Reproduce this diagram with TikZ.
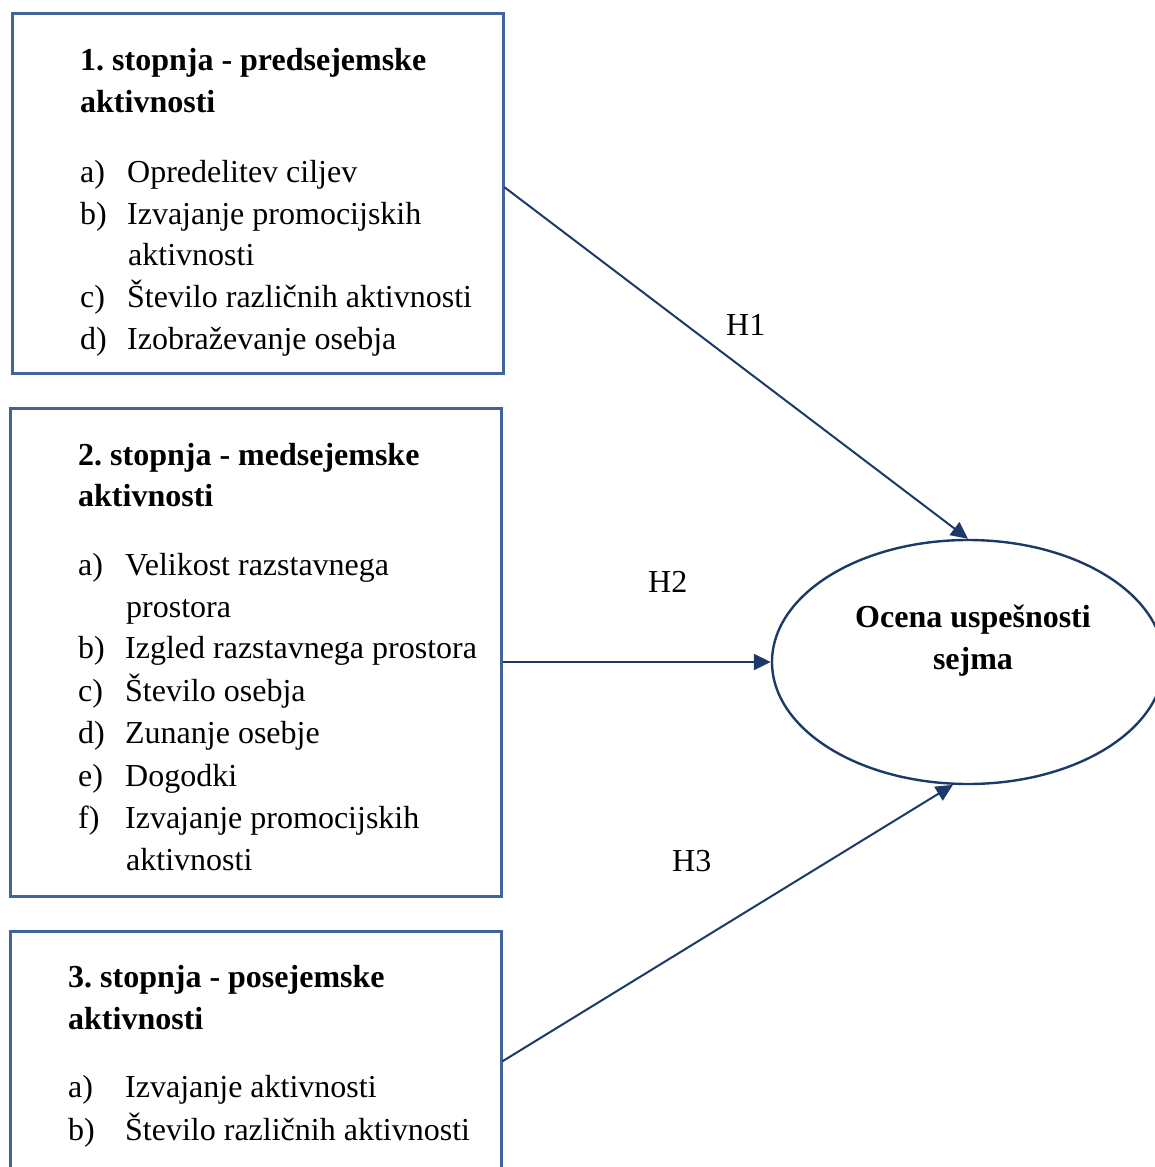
\documentclass[tikz,border=0pt]{standalone}
\usepackage{fontspec}
\setmainfont{Liberation Serif}
\usetikzlibrary{arrows.meta,shapes.geometric}
\definecolor{boxblue}{RGB}{65,101,152}
\definecolor{navy}{RGB}{28,58,104}
\newcommand\lbl[2][47pt]{\makebox[#1][l]{#2}}
\frenchspacing
\begin{document}
\begin{tikzpicture}[x=1pt,y=-1pt,
  box/.style={draw=boxblue, line width=2.5pt, rectangle, inner sep=0pt, anchor=north west},
  txt/.style={anchor=base west, inner sep=0pt, font=\fontsize{32}{42}\selectfont},
  btxt/.style={anchor=base west, inner sep=0pt, font=\fontsize{32}{42}\selectfont\bfseries},
  ctxt/.style={anchor=base, inner sep=0pt, font=\fontsize{32}{42}\selectfont\bfseries},
  oval/.style={draw=navy, line width=2.4pt, ellipse, inner sep=0pt},
  arr/.style={draw=navy, line width=2pt, -{Triangle[length=17pt,width=16pt]}}]
\useasboundingbox (0,0) rectangle (1155,1167);
% boxes
\node[box, minimum width=491pt, minimum height=360pt] (b1) at (11,12) {};
\node[box, minimum width=491pt, minimum height=488pt] (b2) at (9,407) {};
\node[box, minimum width=491pt, minimum height=260pt] (b3) at (9,930) {};
\node[oval, minimum width=392pt, minimum height=244pt] (ell) at (968,662) {};
% box 1 text
\node[btxt] (t1a) at (80,70) {1. stopnja - predsejemske};
\node[btxt] (t1b) at (80,112) {aktivnosti};
\node[txt] (i1a) at (80,182) {\lbl{a)}Opredelitev ciljev};
\node[txt] (i1b) at (80,224) {\lbl{b)}Izvajanje promocijskih};
\node[txt] (i1b2) at (128,265) {aktivnosti};
\node[txt] (i1c) at (80,307) {\lbl{c)}Število različnih aktivnosti};
\node[txt] (i1d) at (80,349) {\lbl{d)}Izobraževanje osebja};
% box 2 text
\node[btxt] (t2a) at (78,465) {2. stopnja - medsejemske};
\node[btxt] (t2b) at (78,506) {aktivnosti};
\node[txt] (i2a) at (78,575) {\lbl{a)}Velikost razstavnega};
\node[txt] (i2a2) at (126,617) {prostora};
\node[txt] (i2b) at (78,658) {\lbl{b)}Izgled razstavnega prostora};
\node[txt] (i2c) at (78,701) {\lbl{c)}Število osebja};
\node[txt] (i2d) at (78,743) {\lbl{d)}Zunanje osebje};
\node[txt] (i2e) at (78,786) {\lbl{e)}Dogodki};
\node[txt] (i2f) at (78,828) {\lbl{f)}Izvajanje promocijskih};
\node[txt] (i2f2) at (126,870) {aktivnosti};
% box 3 text
\node[btxt] (t3a) at (68,987) {3. stopnja - posejemske};
\node[btxt] (t3b) at (68,1029) {aktivnosti};
\node[txt] (i3a) at (68,1097) {\lbl[57pt]{a)}Izvajanje aktivnosti};
\node[txt] (i3b) at (68,1140) {\lbl[57pt]{b)}Število različnih aktivnosti};
% ellipse text
\node[ctxt] (e1) at (973,627) {Ocena uspešnosti};
\node[ctxt] (e2) at (973,669) {sejma};
% arrows
\draw[arr] ([yshift=6pt]b1.east) -- (ell.north);
\draw[arr] (b2.east |- ell.west) -- (ell.west);
\draw[arr] (b3.east) -- (ell.263);
% labels
\node[txt] (h1) at (726,335) {H1};
\node[txt] (h2) at (648,592) {H2};
\node[txt] (h3) at (672,871) {H3};
\end{tikzpicture}
\end{document}
